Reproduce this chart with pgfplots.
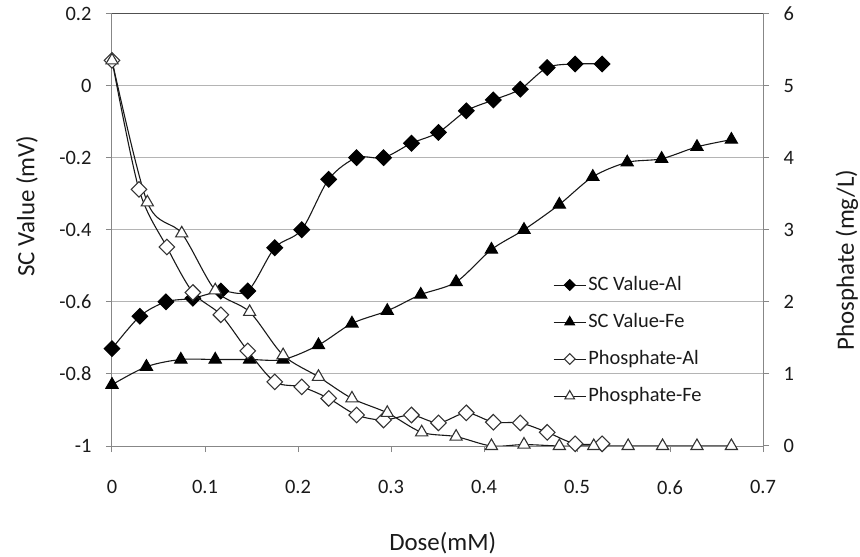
\documentclass[border=0pt]{standalone}
\usepackage{fontspec}
\setmainfont{Carlito}
\usepackage{pgfplots}
\pgfplotsset{compat=1.18}
\definecolor{axisgray}{HTML}{878787}
\definecolor{gridgray}{HTML}{B4B4B4}
\definecolor{topgray}{HTML}{505050}
\definecolor{txt}{HTML}{1A1A1A}
\pgfplotsset{
  base/.style={scale only axis, width=651bp, height=432.5bp, xmin=0, xmax=0.7,
    tick align=outside, major tick length=6bp,
    /pgf/number format/assume math mode=true,
    tick label style={font=\fontsize{20.5}{24}\selectfont, text=txt},
    label style={font=\fontsize{25}{30}\selectfont, text=txt},
    axis line style={draw=axisgray, line width=1bp},
    tick style={draw=axisgray, line width=1bp},
  },
  curve/.style={smooth, tension=0.5, line width=1.1bp, draw=black!90},
}
\begin{document}
\begin{tikzpicture}
\path[use as bounding box] (-112bp,-111bp) rectangle (748bp,446bp);
\begin{axis}[base,
  ymin=-1, ymax=0.2,
  axis x line*=bottom, axis y line*=left,
  xtick={0,0.1,0.2,0.3,0.4,0.5,0.6,0.7},
  xticklabels={0,0.1,0.2,0.3,0.4,0.5,0.6,0.7},
  ytick={-1,-0.8,-0.6,-0.4,-0.2,0},
  yticklabels={-1,-0.8,-0.6,-0.4,-0.2,0},
  extra y ticks={0.2}, extra y tick labels={0.2},
  extra y tick style={grid style={draw=topgray, line width=1.6bp}},
  ymajorgrids, grid style={draw=gridgray, line width=1bp},
  xticklabel style={yshift=-25bp}, yticklabel style={xshift=-11bp},
  xlabel={Dose(mM)}, ylabel={SC Value (mV)},
  xlabel style={at={(axis description cs:0.508,-0.224)}, anchor=center},
  ylabel style={at={(axis description cs:-0.1306,0.555)}, anchor=center},
]
\addplot[curve, mark=square*, mark size=5.5bp, mark options={rotate=45, fill=black, draw=black, solid}] coordinates {
(0,-0.73)(0.030,-0.64)(0.058,-0.60)(0.087,-0.59)(0.117,-0.57)(0.146,-0.57)(0.175,-0.45)(0.204,-0.40)(0.233,-0.26)(0.263,-0.20)(0.292,-0.20)(0.322,-0.16)(0.351,-0.13)(0.381,-0.07)(0.410,-0.04)(0.439,-0.01)(0.468,0.05)(0.498,0.06)(0.527,0.06)};
\addplot[curve, mark=triangle*, mark size=7bp, mark options={fill=black, draw=black, solid}] coordinates {
(0,-0.83)(0.037,-0.78)(0.074,-0.76)(0.111,-0.76)(0.148,-0.76)(0.184,-0.76)(0.222,-0.72)(0.258,-0.66)(0.296,-0.625)(0.332,-0.58)(0.370,-0.545)(0.408,-0.455)(0.443,-0.40)(0.481,-0.33)(0.517,-0.253)(0.554,-0.213)(0.591,-0.203)(0.629,-0.17)(0.666,-0.15)};
\end{axis}
\begin{axis}[base,
  ymin=0, ymax=6,
  axis x line=none, axis y line*=right,
  ytick={0,1,2,3,4,5,6}, yticklabels={0,1,2,3,4,5,6},
  yticklabel style={xshift=11bp},
  ylabel={Phosphate (mg/L)},
  ylabel style={at={(axis description cs:1.129,0.43)}, anchor=center},
  legend style={at={(rel axis cs:0.6774,0.398)}, anchor=north west, draw=none, fill=none,
    font=\fontsize{20.5}{24}\selectfont, text=txt, row sep=15bp, inner sep=0pt,
    nodes={inner sep=2bp, text height=14bp, text depth=4bp}},
  legend cell align=left,
  legend image code/.code={\draw[mark repeat=2,mark phase=2,#1] plot coordinates {(0bp,0bp)(16bp,0bp)(32bp,0bp)};},
]
\addlegendimage{line width=1.1bp, draw=black!90, mark=square*, mark size=3.8bp, mark options={rotate=45, fill=black, draw=black, solid}}
\addlegendentry{SC Value-Al}
\addlegendimage{line width=1.1bp, draw=black!90, mark=triangle*, mark size=5.5bp, mark options={fill=black, draw=black, solid}}
\addlegendentry{SC Value-Fe}
\addlegendimage{line width=1.1bp, draw=black!90, mark=square*, mark size=3.8bp, mark options={rotate=45, fill=white, draw=black!80, solid}}
\addlegendentry{Phosphate-Al}
\addlegendimage{line width=1.1bp, draw=black!90, mark=triangle*, mark size=5.5bp, mark options={fill=white, draw=black!80, solid}}
\addlegendentry{Phosphate-Fe}
\addplot[curve, forget plot, mark=square*, mark size=5.5bp, mark options={rotate=45, fill=white, draw=black!80, solid}] coordinates {
(0,5.35)(0.029,3.56)(0.059,2.76)(0.087,2.13)(0.117,1.82)(0.146,1.32)(0.175,0.89)(0.204,0.82)(0.233,0.66)(0.263,0.43)(0.292,0.36)(0.322,0.43)(0.351,0.32)(0.381,0.46)(0.410,0.33)(0.439,0.32)(0.468,0.19)(0.498,0.03)(0.527,0.03)};
\addplot[curve, forget plot, mark=triangle*, mark size=7bp, mark options={fill=white, draw=black!80, solid}] coordinates {
(0,5.35)(0.038,3.38)(0.075,2.95)(0.111,2.16)(0.148,1.86)(0.184,1.26)(0.222,0.96)(0.258,0.66)(0.296,0.46)(0.333,0.19)(0.370,0.13)(0.408,0)(0.443,0.02)(0.481,0)(0.518,0)(0.555,0)(0.592,0)(0.629,0)(0.666,0)};
\end{axis}
\end{tikzpicture}
\end{document}
